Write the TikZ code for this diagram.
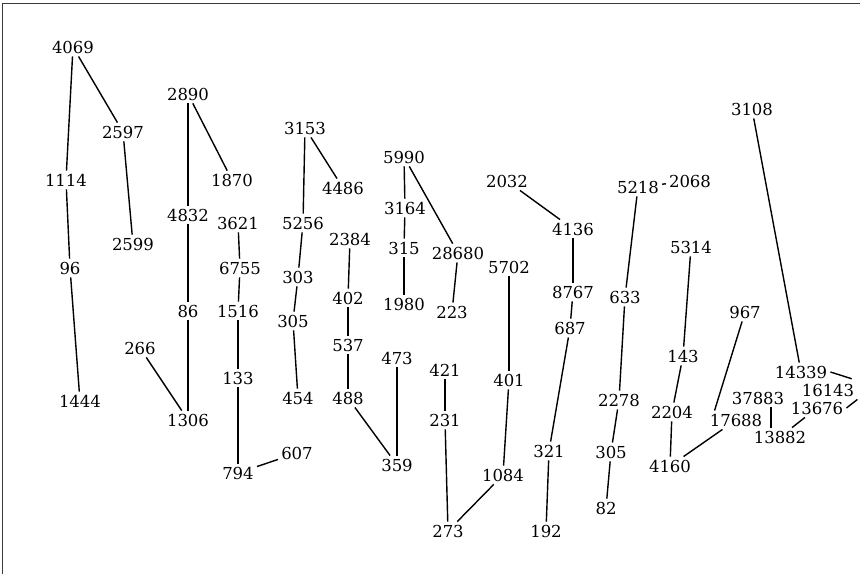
\documentclass[tikz,border=0pt]{standalone}
\usepackage{fontspec}
\setmainfont{DejaVu Serif}
\usepackage{tikz}
\usetikzlibrary{positioning}
\definecolor{FrameGray}{HTML}{3A3A3A}

\tikzset{
  num/.style={inner sep=3pt, font=\fontsize{16.5}{18}\selectfont},
  link/.style={line width=1.4pt, black}
}

\begin{document}
\begin{tikzpicture}[x=1pt,y=-1pt]
  \useasboundingbox (0,0) rectangle (860,574);
  % frame (only top and left visible)
  \draw[FrameGray, line width=1.4pt] (2.5,574) -- (2.5,3.5) -- (860,3.5);
  % numbers
  \foreach \nm/\x/\y/\lbl in {
    a4069/73/47/4069, a2597/123/132/2597, a1114/66/180/1114,
    a2599/133/244/2599, a96/70/268/96, a1444/80/401/1444,
    b2890/188/94/2890, b1870/232/180/1870, b4832/188/215/4832,
    b86/188/311/86, b266/140/348/266, b1306/188/420/1306,
    c3621/238/223/3621, c6755/240/268/6755, c1516/238/311/1516,
    c133/238/378/133, c794/238/473/794, c607/297/453/607,
    d3153/305/128/3153, d4486/343/188/4486, d5256/303/223/5256,
    d303/298/277/303, d305/293/321/305, d454/298/398/454,
    e2384/350/239/2384, e402/348/298/402, e537/348/345/537,
    e488/348/398/488, e473/397/358/473, e359/397/465/359,
    f5990/404/157/5990, f3164/405/208/3164, f315/404/248/315,
    f1980/404/304/1980, f28680/458/253/28680, f223/452/312/223,
    g5702/509/267/5702, g401/509/380/401, g1084/503/475/1084,
    g421/445/370/421, g231/445/420/231, g273/448/531/273,
    h2032/507/181/2032, h4136/573/229/4136, h8767/573/292/8767,
    h687/570/328/687, h321/549/451/321, h192/546/531/192,
    i5218/638/187/5218, i2068/690/181/2068, i633/625/297/633,
    i2278/619/400/2278, i305/611/452/305, i82/606/508/82,
    j5314/691/247/5314, j143/683/356/143, j2204/672/412/2204,
    j4160/670/466/4160, j17688/736/420/17688, j967/745/312/967,
    k3108/752/109/3108, k14339/801/372/14339, k16143/828/390/16143,
    k13676/817/408/13676, k13882/780/437/13882, k37883/758/398/37883}{
    \node[num] (\nm) at (\x,\y) {\lbl};
  }
  % links
  \foreach \a/\b in {a4069/a1114, a4069/a2597, a2597/a2599, a1114/a96, a96/a1444,
    b2890/b4832, b2890/b1870, b4832/b86, b86/b1306, b266/b1306,
    c3621/c6755, c6755/c1516, c1516/c133, c133/c794, c794/c607,
    d3153/d5256, d3153/d4486, d5256/d303, d303/d305, d305/d454,
    e2384/e402, e402/e537, e537/e488, e488/e359, e473/e359,
    f5990/f3164, f3164/f315, f315/f1980, f5990/f28680, f28680/f223,
    g5702/g401, g401/g1084, g1084/g273, g421/g231, g231/g273,
    h2032/h4136, h4136/h8767, h8767/h687, h687/h321, h321/h192,
    i5218/i2068, i5218/i633, i633/i2278, i2278/i305, i305/i82,
    j5314/j143, j143/j2204, j2204/j4160, j4160/j17688,
    k3108/k14339, k13676/k13882}{
    \draw[link] (\a) -- (\b);
  }
  % crowded corner
  \draw[link] (j967) -- ([xshift=8pt]j17688.north west);
  \draw[link] ([xshift=13pt]k37883.south) -- ([xshift=-9pt]k13882.north);
  \draw[link, shorten >=6pt] (k14339.east) -- (k16143.north east);
  \draw[link] (k16143.south east) -- (k13676.east);
\end{tikzpicture}
\end{document}
